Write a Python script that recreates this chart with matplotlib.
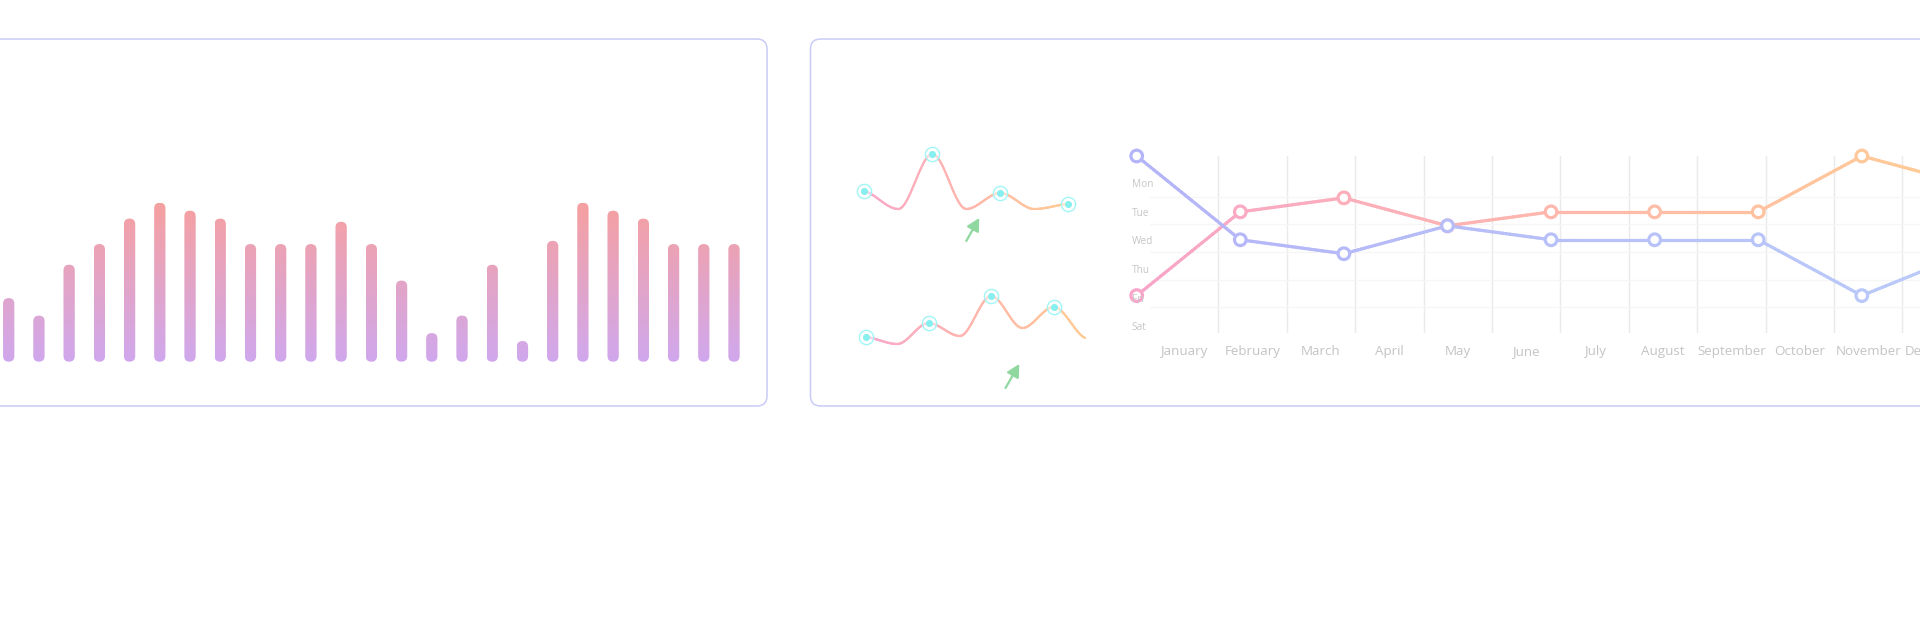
import matplotlib
matplotlib.use("Agg")
import matplotlib.pyplot as plt
import numpy as np
from matplotlib.patches import FancyBboxPatch
from matplotlib.collections import LineCollection
from matplotlib.colors import LinearSegmentedColormap, Normalize

plt.rcParams['font.family'] = ['Open Sans', 'DejaVu Sans']

W, H, DPI = 1920, 628, 100

# ---- data ----
bar_values = [40, 29, 61, 74, 90, 100, 95, 90, 74, 74, 74, 88, 74,
              51, 18, 29, 61, 13, 76, 100, 95, 90, 74, 74, 74]

spark_top = [29, 11, 66, 11, 27, 11, 16]
spark_bottom = [13, 6, 27, 14, 54, 22, 43, 12]
spark_marks = [0, 2, 4, 6]
arrow_top = [(3.0, -21), (3.38, 2)]        # tail, tip
arrow_bottom = [(4.46, -38), (4.9, -14)]

months = ['January', 'February', 'March', 'April', 'May', 'June', 'July',
          'August', 'September', 'October', 'November', 'December']
days = ['Mon', 'Tue', 'Wed', 'Thu', 'Fri', 'Sat']
day_pos = [8.05, 6.0, 3.95, 1.9, -0.15, -2.2]
hgrid_pos = [7.05, 5.1, 3.1, 1.15, -0.8]
series_blue = [10, 4, 3, 5, 4, 4, 4, 0, 3]
series_warm = [0, 6, 7, 5, 6, 6, 6, 10, 8]

fig = plt.figure(figsize=(W / DPI, H / DPI), dpi=DPI)


def px_axes(x0, y0, x1, y1):
    return fig.add_axes([x0 / W, 1 - y1 / H, (x1 - x0) / W, (y1 - y0) / H])


# panels
bg = px_axes(0, 0, W, H)
bg.set_xlim(0, W)
bg.set_ylim(H, 0)
bg.axis('off')
for x0, x1 in [(-200, 767), (810.5, 2200)]:
    bg.add_patch(FancyBboxPatch((x0, 39), x1 - x0, 367,
                                boxstyle='round,pad=0,rounding_size=10',
                                fc='white', ec='#C9CCF8', lw=1.1))

# ---- bar chart ----
step, px_unit = 30.22, 1.59
axb = px_axes(8.7 - step / 2, 202.7, 734 + step / 2, 361.7)
bar_cmap = LinearSegmentedColormap.from_list('bars', ['#D0A8EE', '#E3A4C6', '#F6A0A0'])
bw = 11.3 / step
asp = step / px_unit
grad = np.linspace(0, 100, 256).reshape(-1, 1)
for i, v in enumerate(bar_values):
    patch = FancyBboxPatch((i - bw / 2, 0), bw, v,
                           boxstyle=f'round,pad=0,rounding_size={bw / 2}',
                           mutation_aspect=asp, fc='none', ec='none')
    axb.add_patch(patch)
    im = axb.imshow(grad, extent=(i - bw / 2, i + bw / 2, 0, 100), origin='lower',
                    cmap=bar_cmap, norm=Normalize(0, 100), aspect='auto',
                    interpolation='bilinear')
    im.set_clip_path(patch)
axb.set_xlim(-0.5, len(bar_values) - 0.5)
axb.set_ylim(0, 100)
axb.axis('off')


# ---- sparklines ----
def smooth(y, n=40):
    y = np.asarray(y, float)
    d = np.diff(y)
    m = np.zeros_like(y)
    for k in range(1, len(y) - 1):
        if d[k - 1] * d[k] > 0:
            m[k] = 2 / (1 / d[k - 1] + 1 / d[k])
    m[0], m[-1] = d[0] * 0.5, d[-1] * 0.5
    t = np.linspace(0, 1, n, endpoint=False)
    h00 = 2 * t**3 - 3 * t**2 + 1
    h10 = t**3 - 2 * t**2 + t
    h01 = -2 * t**3 + 3 * t**2
    h11 = t**3 - t**2
    xs, ys = [], []
    for k in range(len(y) - 1):
        xs.append(k + t)
        ys.append(h00 * y[k] + h10 * m[k] + h01 * y[k + 1] + h11 * m[k + 1])
    xs.append([len(y) - 1])
    ys.append([y[-1]])
    return np.concatenate(xs), np.concatenate(ys)


spark_cmap = LinearSegmentedColormap.from_list('spark', ['#F9A8CB', '#FFB6AC', '#FFCC94'])


def sparkline(ax, vals, arrow):
    xs, ys = smooth(vals)
    pts = np.column_stack([xs, ys]).reshape(-1, 1, 2)
    segs = np.concatenate([pts[:-1], pts[1:]], axis=1)
    lc = LineCollection(segs, colors=spark_cmap(xs[:-1] / (len(vals) - 1)),
                        linewidths=1.6, capstyle='round', clip_on=False)
    ax.add_collection(lc)
    mx = np.array(spark_marks)
    my = np.array(vals)[mx]
    ax.scatter(mx, my, s=105, fc=(1, 1, 1, 0.5), ec='#A2F5F5', lw=1.0,
               zorder=3, clip_on=False)
    ax.scatter(mx, my, s=26, color='#88EFEF', lw=0, zorder=4, clip_on=False)
    ax.annotate('', xy=arrow[1], xytext=arrow[0], annotation_clip=False,
                arrowprops=dict(arrowstyle='-|>,head_length=0.75,head_width=0.4',
                                color='#8FD8A0', lw=1.6, shrinkA=0, shrinkB=0))
    ax.set_xlim(0, len(vals) - 1)
    ax.axis('off')


ax_s1 = px_axes(864.3, 150, 1068.3, 220)
ax_s1.set_ylim(0, 70)
sparkline(ax_s1, spark_top, arrow_top)

ax_s2 = px_axes(866, 290, 1085, 350)
ax_s2.set_ylim(0, 60)
sparkline(ax_s2, spark_bottom, arrow_bottom)

# ---- line chart ----
Y_LO = -2.7
axg = px_axes(1150, 156, 1150 + 12 * 68.4, 333.3)
axg.set_xlim(0, 12)
axg.set_ylim(Y_LO, 10)
axg.set_xticks(np.arange(12) + 0.5, months)
axg.set_xticks(np.arange(1, 12), minor=True)
axg.set_yticks([])
axg.set_yticks(hgrid_pos, minor=True)
axg.grid(True, which='minor', axis='x', color='#EAEAEA', lw=1)
axg.grid(True, which='minor', axis='y', color='#F6F6F6', lw=1)
axg.tick_params(which='both', length=0)
axg.tick_params(axis='x', which='major', colors='#C4C4C4', labelsize=9.6, pad=15.5)
for lab in axg.get_xticklabels():
    lab.set_va('baseline')
for s in axg.spines.values():
    s.set_visible(False)
axg.patch.set_visible(False)

axl = px_axes(1136.7, 156, 1136.7 + 8 * 103.59, 333.3)
axl.set_xlim(0, 8)
axl.set_ylim(Y_LO, 10)
axl.set_xticks([])
axl.set_yticks(day_pos, days)
axl.tick_params(axis='y', length=0, pad=3.6, labelsize=7.3, labelcolor='#C6C6C6')
for lab in axl.get_yticklabels():
    lab.set_ha('left')
axl.yaxis.set_zorder(5)
for s in axl.spines.values():
    s.set_visible(False)
axl.patch.set_visible(False)

blue_cmap = LinearSegmentedColormap.from_list('blue', ['#B4B4F8', '#BBCBF9'])
warm_cmap = LinearSegmentedColormap.from_list('warm', ['#F8A5C9', '#FFB7AD', '#FFCD94'])


def grad_line(ax, vals, cmap, z):
    n = len(vals) - 1
    xs = np.linspace(0, n, n * 30 + 1)
    ys = np.interp(xs, np.arange(n + 1), vals)
    pts = np.column_stack([xs, ys]).reshape(-1, 1, 2)
    segs = np.concatenate([pts[:-1], pts[1:]], axis=1)
    lc = LineCollection(segs, colors=cmap(xs[:-1] / n), linewidths=2.3,
                        capstyle='round', clip_on=False, zorder=z)
    ax.add_collection(lc)


def markers(ax, vals, cmap, z):
    x = np.arange(len(vals))
    ax.scatter(x, vals, s=70, fc='white', ec=cmap(x / (len(vals) - 1)), lw=2.3,
               zorder=z, clip_on=False)


grad_line(axl, series_warm, warm_cmap, 1.0)
grad_line(axl, series_blue, blue_cmap, 1.05)
markers(axl, series_warm, warm_cmap, 1.1)
markers(axl, series_blue, blue_cmap, 1.2)

fig.savefig('out.png', dpi=DPI)
